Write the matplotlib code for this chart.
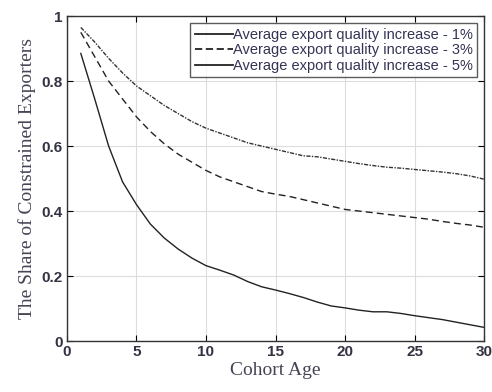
import numpy as np
import matplotlib
matplotlib.use('Agg')
import matplotlib.pyplot as plt
from matplotlib.lines import Line2D

age = np.arange(1, 31)
q1 = [0.965, 0.92, 0.87, 0.825, 0.785, 0.755, 0.725, 0.70, 0.675, 0.655,
      0.64, 0.625, 0.61, 0.60, 0.59, 0.58, 0.57, 0.567, 0.56, 0.553,
      0.546, 0.54, 0.535, 0.532, 0.528, 0.524, 0.52, 0.515, 0.508, 0.498]
q3 = [0.95, 0.875, 0.80, 0.745, 0.69, 0.645, 0.607, 0.575, 0.55, 0.525,
      0.505, 0.49, 0.475, 0.46, 0.452, 0.445, 0.435, 0.425, 0.415, 0.405,
      0.40, 0.395, 0.39, 0.385, 0.38, 0.375, 0.368, 0.362, 0.357, 0.35]
q5 = [0.885, 0.745, 0.60, 0.49, 0.42, 0.36, 0.317, 0.283, 0.255, 0.232,
      0.218, 0.203, 0.183, 0.167, 0.157, 0.146, 0.134, 0.12, 0.108, 0.102,
      0.095, 0.09, 0.09, 0.085, 0.078, 0.072, 0.066, 0.058, 0.05, 0.042]
labels = ['Average export quality increase - 1%',
          'Average export quality increase - 3%',
          'Average export quality increase - 5%']

fig = plt.figure(figsize=(4.92, 3.92), dpi=100)
ax = fig.add_axes([0.136, 0.130, 0.848, 0.829])

ax.plot(age, q1, color='#333333', lw=1.0, linestyle=(0, (3, 1, 1, 1)))
ax.plot(age, q3, color='#222222', lw=1.0, linestyle=(0, (5, 3)))
ax.plot(age, q5, color='#222222', lw=1.0, linestyle='-')

ax.set_xlim(0, 30)
ax.set_ylim(0, 1)
ax.set_xticks(np.arange(0, 31, 5))
ax.set_yticks([0, 0.2, 0.4, 0.6, 0.8, 1])
ax.set_yticklabels(['0', '0.2', '0.4', '0.6', '0.8', '1'])
ax.grid(True, color='#dddddd', lw=0.8)
ax.set_axisbelow(True)
ax.tick_params(direction='in', top=True, right=True, length=4, width=0.8,
               labelsize=11, pad=3)
for lab in ax.get_xticklabels() + ax.get_yticklabels():
    lab.set_fontfamily('Liberation Sans')
    lab.set_fontweight('bold')
    lab.set_color('#333344')
for s in ax.spines.values():
    s.set_linewidth(1.0)
    s.set_color('#333333')

ax.set_xlabel('Cohort Age', family='Liberation Serif', fontsize=14,
              color='#444455', labelpad=2)
ax.set_ylabel('The Share of Constrained Exporters', family='Liberation Serif',
              fontsize=14, color='#444455', labelpad=4)

handles = [Line2D([], [], color='#222222', lw=1.3, linestyle='-'),
           Line2D([], [], color='#222222', lw=1.3, linestyle=(0, (4, 2))),
           Line2D([], [], color='#222222', lw=1.3, linestyle='-')]
leg = ax.legend(handles, labels, loc='upper right',
                prop={'family': 'Liberation Sans', 'size': 10.5},
                frameon=True, fancybox=False, edgecolor='#333333',
                handlelength=2.6, handletextpad=0.0, borderpad=0.3,
                labelspacing=0.1, borderaxespad=0.5)
leg.get_frame().set_linewidth(1.0)
for t in leg.get_texts():
    t.set_color('#333355')

fig.savefig('out.png', dpi=100)
